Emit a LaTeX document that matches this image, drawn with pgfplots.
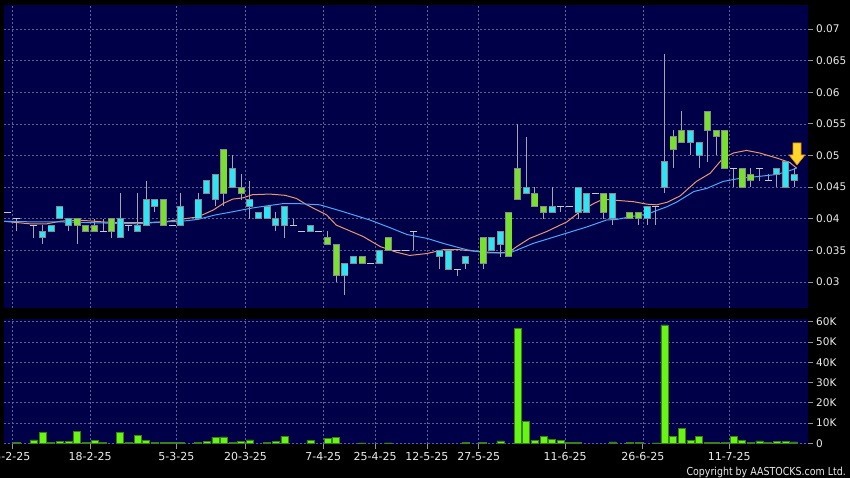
\documentclass[border=0pt]{standalone}
\usepackage{pgfplots}
\usepackage{pgfplotstable}
\pgfplotsset{compat=1.18}
\usepackage{fontspec}
\setmainfont{DejaVu Sans}
\newfontfamily\narrowfont[FakeStretch=0.86]{DejaVu Sans}

\definecolor{navyc}{RGB}{0,0,72}
\definecolor{gridc}{RGB}{95,95,150}
\definecolor{tickc}{RGB}{150,150,150}
\definecolor{labelc}{RGB}{235,235,235}
\definecolor{cyanc}{RGB}{45,230,245}
\definecolor{greenc}{RGB}{120,225,45}
\definecolor{edgec}{RGB}{135,135,140}
\definecolor{wickc}{RGB}{165,165,175}
\definecolor{dojic}{RGB}{200,200,205}
\definecolor{volc}{RGB}{105,245,20}
\definecolor{voledge}{RGB}{55,130,20}
\definecolor{maorange}{RGB}{235,150,110}
\definecolor{mablue}{RGB}{70,170,250}
\definecolor{arrowc}{RGB}{255,215,40}
\definecolor{arrowedge}{RGB}{230,140,20}

% rising candles: x low bodybottom bodytop high
\pgfplotstableread{
x lo bot top hi
4 0.036 0.037 0.038 0.039
5 0.038 0.038 0.039 0.039
6 0.040 0.040 0.042 0.042
7 0.038 0.039 0.040 0.040
13 0.037 0.037 0.040 0.044
15 0.038 0.038 0.039 0.044
16 0.039 0.039 0.043 0.046
17 0.041 0.042 0.043 0.043
20 0.039 0.039 0.042 0.044
22 0.040 0.040 0.043 0.044
23 0.044 0.044 0.046 0.046
24 0.042 0.043 0.047 0.047
26 0.045 0.045 0.048 0.050
28 0.040 0.042 0.043 0.046
29 0.040 0.040 0.041 0.041
30 0.040 0.040 0.042 0.042
31 0.038 0.039 0.040 0.041
32 0.037 0.039 0.042 0.042
35 0.038 0.038 0.039 0.039
39 0.028 0.031 0.033 0.033
40 0.033 0.033 0.034 0.034
43 0.033 0.033 0.035 0.035
50 0.032 0.034 0.035 0.035
51 0.032 0.032 0.035 0.035
53 0.032 0.033 0.034 0.034
56 0.035 0.035 0.037 0.037
57 0.034 0.036 0.038 0.038
60 0.044 0.044 0.045 0.053
63 0.041 0.041 0.042 0.045
66 0.040 0.041 0.045 0.045
67 0.041 0.041 0.044 0.044
70 0.039 0.040 0.044 0.044
74 0.039 0.040 0.042 0.042
76 0.044 0.045 0.049 0.066
79 0.050 0.052 0.054 0.054
80 0.048 0.050 0.052 0.052
89 0.045 0.047 0.048 0.048
90 0.045 0.045 0.049 0.049
91 0.045 0.046 0.047 0.048
}\cyantable

\pgfplotstableread{
x lo bot top hi
8 0.036 0.039 0.040 0.040
9 0.038 0.038 0.039 0.039
10 0.038 0.038 0.039 0.040
12 0.037 0.038 0.040 0.040
18 0.039 0.039 0.043 0.043
25 0.042 0.044 0.051 0.051
27 0.043 0.044 0.045 0.047
37 0.036 0.036 0.037 0.038
38 0.030 0.031 0.036 0.036
41 0.033 0.033 0.034 0.034
44 0.035 0.035 0.037 0.037
55 0.032 0.033 0.037 0.037
58 0.034 0.034 0.041 0.041
59 0.043 0.043 0.048 0.055
61 0.042 0.042 0.044 0.045
62 0.040 0.041 0.042 0.042
69 0.040 0.041 0.044 0.044
72 0.040 0.040 0.041 0.041
73 0.039 0.040 0.041 0.041
77 0.048 0.051 0.053 0.054
78 0.052 0.052 0.054 0.057
81 0.049 0.054 0.057 0.057
82 0.050 0.053 0.054 0.054
83 0.048 0.048 0.054 0.054
85 0.045 0.045 0.048 0.048
86 0.045 0.046 0.047 0.048
}\greentable

% open = close
\pgfplotstableread{
x lo p hi
0 0.041 0.041 0.041
1 0.038 0.040 0.040
3 0.037 0.039 0.039
11 0.038 0.038 0.040
14 0.038 0.039 0.039
19 0.039 0.039 0.039
33 0.039 0.039 0.040
34 0.038 0.038 0.038
36 0.038 0.038 0.038
42 0.033 0.033 0.033
45 0.035 0.035 0.035
46 0.035 0.035 0.035
47 0.035 0.038 0.038
52 0.031 0.032 0.032
64 0.041 0.042 0.042
65 0.042 0.042 0.042
68 0.044 0.044 0.044
75 0.039 0.042 0.042
84 0.045 0.048 0.048
87 0.046 0.048 0.048
88 0.046 0.046 0.047
}\dojitable

\pgfplotstableread{
x v
1 500
3 1700
4 5500
5 500
6 1000
7 1000
8 5700
9 500
10 1300
11 400
13 5200
14 500
15 4000
16 1300
17 500
18 500
19 500
20 500
22 300
23 1000
24 3000
25 3200
26 500
27 800
28 1700
30 300
31 800
32 3500
35 1500
37 2300
38 2800
41 200
44 200
53 500
55 300
57 1200
59 56700
60 10700
61 1600
62 3600
63 2100
64 1500
65 300
66 300
70 700
72 300
73 500
75 200
76 58400
77 3500
78 7400
79 1600
80 3500
81 300
82 300
83 300
84 3300
85 1600
86 300
87 1200
88 500
89 1000
90 1000
91 700
}\voltable

\pgfplotsset{
  panel/.style={
    scale only axis, width=804pt, anchor=south west,
    xmin=-0.463, xmax=92.62,
    axis background/.style={fill=navyc},
    axis line style={draw=none},
    xtick={0.5,9.5,19.5,27.5,36.5,42.5,48.5,54.5,64.5,73.5,83.5},
    grid=major,
    major grid style={draw=gridc, dash pattern=on 2pt off 2pt, line width=0.6pt},
    ytick pos=right, yticklabel pos=right,
    tick align=outside, major tick length=5pt,
    tick style={draw=tickc, line width=0.8pt},
    scaled y ticks=false,
    yticklabel style={font=\fontsize{10.5}{12}\selectfont, text=labelc, anchor=west, inner sep=0pt, xshift=3pt},
    xticklabel style={font=\fontsize{11}{13}\selectfont, text=labelc},
    /pgf/number format/assume math mode=true,
  },
  wick/.style={forget plot, draw=none, no marks,
    error bars/.cd, y dir=plus, y explicit, error mark=none,
    error bar style={draw=wickc, line width=1pt}},
  bodyedge/.style={forget plot, draw=none, no marks,
    error bars/.cd, y dir=plus, y explicit, error mark=none,
    error bar style={draw=edgec, line width=7pt}},
  bodyfill/.style={forget plot, draw=none, no marks,
    error bars/.cd, y dir=plus, y explicit, error mark=none,
    error bar style={draw=#1, line width=5.4pt}},
}

\begin{document}
\begin{tikzpicture}[x=1pt,y=1pt]
\fill[black] (0,0) rectangle (850,478);
\begin{scope}
\clip (0,0) rectangle (850,478);

% price panel
\begin{axis}[panel,
  at={(4pt,170pt)}, height=303pt,
  ymin=0.02589, ymax=0.07379,
  xticklabels={}, xtick style={draw=none},
  ytick={0.03,0.035,0.04,0.045,0.05,0.055,0.06,0.065,0.07},
  yticklabels={0.03,0.035,0.04,0.045,0.05,0.055,0.06,0.065,0.07},
]
\addplot[wick] table[x=x, y=lo, y error expr=\thisrow{hi}-\thisrow{lo}] {\cyantable};
\addplot[wick] table[x=x, y=lo, y error expr=\thisrow{hi}-\thisrow{lo}] {\greentable};
\addplot[wick] table[x=x, y=lo, y error expr=\thisrow{hi}-\thisrow{lo}] {\dojitable};
\addplot[forget plot, only marks, mark=-, mark size=3.5pt,
  mark options={draw=dojic, line width=1pt}] table[x=x, y=p] {\dojitable};

\addplot[maorange, line width=1pt, forget plot] coordinates {
(-0.5,0.0396) (2.5,0.0392) (4.5,0.0392) (6,0.0396) (8,0.0398) (10,0.0396)
(12,0.0394) (14,0.0394) (16,0.0394) (18,0.0395) (20,0.0399) (22,0.0403)
(23.8,0.0414) (24.9,0.0424) (26,0.0431) (27.2,0.0433) (28.3,0.0438)
(30.3,0.0439) (32.1,0.0437) (33.4,0.0432) (34.6,0.0422) (36.9,0.0406)
(38,0.0390) (39.2,0.0383) (41.1,0.0372) (43.1,0.0356) (45,0.0347)
(46.5,0.0342) (48.5,0.0345) (50.4,0.0351) (52.3,0.0351) (54.6,0.0348)
(57,0.0346) (58.1,0.0348) (58.9,0.0356) (60.4,0.0369) (62.4,0.0380)
(64.7,0.0395) (66.2,0.0411) (67.8,0.0424) (68.9,0.0431) (70.5,0.0429)
(72.4,0.0427) (74,0.0423) (75.1,0.0422) (76.3,0.0426) (77.8,0.0436)
(79.7,0.0459) (81.3,0.0472) (82.8,0.0496) (84,0.0504) (85.5,0.0508)
(87,0.0504) (89,0.0496) (90.5,0.0489) (91.3,0.0480)
};
\addplot[mablue, line width=1pt, forget plot] coordinates {
(-0.5,0.0396) (3,0.0395) (6,0.0395) (9,0.0394) (12,0.0393) (15,0.0392)
(18,0.0395) (20.1,0.0396) (22,0.0399) (24,0.0406) (26,0.0411) (28.3,0.0417)
(29.8,0.0420) (31.9,0.0424) (33.5,0.0424) (36.1,0.0422) (38.6,0.0412)
(41.9,0.0398) (44.2,0.0386) (46.2,0.0375) (47.7,0.0371) (48.5,0.0369)
(50.4,0.0361) (53.1,0.0351) (55.4,0.0346) (58.1,0.0346) (60.8,0.0361)
(63.9,0.0374) (67,0.0387) (69.3,0.0398) (70.5,0.0399) (72.4,0.0404)
(74,0.0407) (75.1,0.0413) (76.3,0.0419) (77.5,0.0427) (79.4,0.0443)
(80.9,0.0448) (82.8,0.0459) (84.8,0.0464) (87,0.0467) (89,0.0470)
(90.5,0.0476) (91.3,0.0480)
};

\addplot[bodyedge] table[x=x, y expr=\thisrow{bot}-0.00008, y error expr=\thisrow{top}-\thisrow{bot}+0.00016] {\cyantable};
\addplot[bodyfill=cyanc] table[x=x, y expr=\thisrow{bot}+0.00008, y error expr=\thisrow{top}-\thisrow{bot}-0.00016] {\cyantable};
\addplot[bodyedge] table[x=x, y expr=\thisrow{bot}-0.00008, y error expr=\thisrow{top}-\thisrow{bot}+0.00016] {\greentable};
\addplot[bodyfill=greenc] table[x=x, y expr=\thisrow{bot}+0.00008, y error expr=\thisrow{top}-\thisrow{bot}-0.00016] {\greentable};

\filldraw[fill=arrowc, draw=arrowedge, line width=0.6pt]
  (axis cs:91.35,0.0485) -- ++(-8pt,10pt) -- ++(4pt,0pt) -- ++(0pt,12pt)
  -- ++(8pt,0pt) -- ++(0pt,-12pt) -- ++(4pt,0pt) -- cycle;
\end{axis}

% volume panel
\begin{axis}[panel,
  at={(4pt,34pt)}, height=125pt,
  ymin=-345, ymax=61322,
  xtick pos=bottom, xticklabel pos=bottom,
  xticklabels={5-2-25,18-2-25,5-3-25,20-3-25,7-4-25,25-4-25,12-5-25,27-5-25,11-6-25,26-6-25,11-7-25},
  ytick={0,10000,20000,30000,40000,50000,60000},
  yticklabels={0,10K,20K,30K,40K,50K,60K},
]
\addplot[ybar, bar width=7pt, fill=volc, draw=voledge, line width=0.6pt] table[x=x, y=v] {\voltable};
\end{axis}
\end{scope}

\node[anchor=base east, inner sep=0pt, text=labelc,
  font=\narrowfont\fontsize{11}{13}\selectfont] at (846pt,2.3pt) {Copyright by AASTOCKS.com Ltd.};
\pgfresetboundingbox
\useasboundingbox (0,0) rectangle (850pt,478pt);
\end{tikzpicture}
\end{document}
